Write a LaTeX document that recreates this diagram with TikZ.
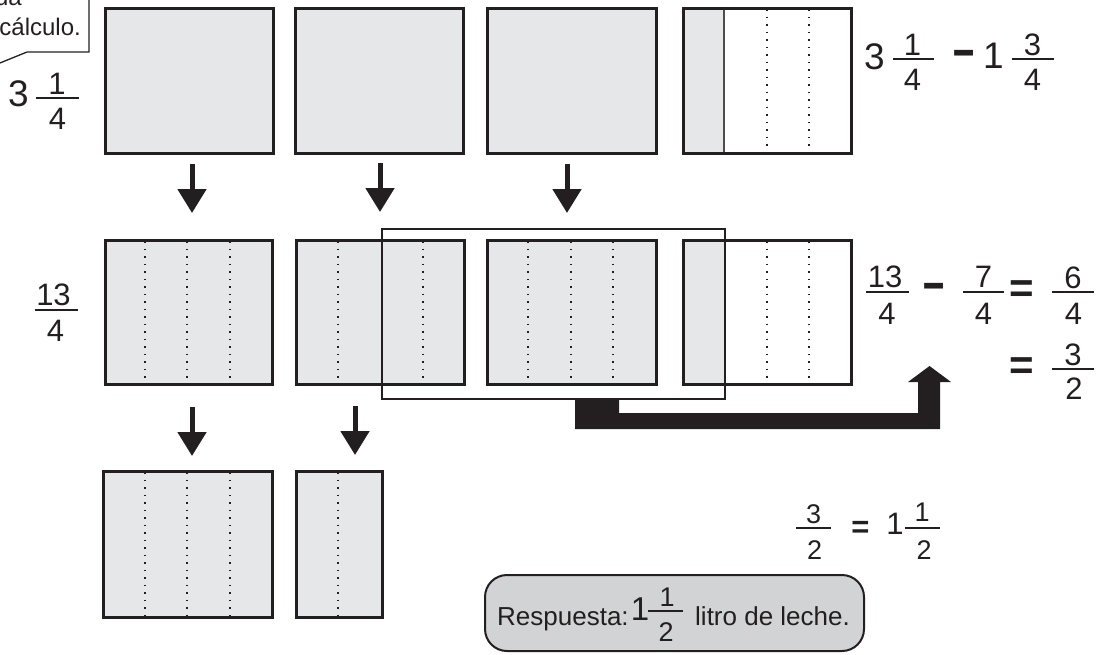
\documentclass[tikz,border=0pt]{standalone}
\usepackage{fontspec}
\setmainfont{Liberation Sans}
\usetikzlibrary{arrows.meta}
\definecolor{ink}{HTML}{231F20}
\definecolor{boxgray}{HTML}{E6E7E8}
\definecolor{ansgray}{HTML}{D1D3D4}
\tikzset{
  box/.style={draw=ink, line width=3pt, fill=boxgray, rectangle, inner sep=0, anchor=north west},
  frame/.style={draw=ink, line width=3pt, rectangle, inner sep=0, anchor=north west},
  bigframe/.style={draw=ink, line width=2pt, rectangle, inner sep=0, anchor=north west},
  dotline/.style={ink, line width=1.9pt, dash pattern=on 1.9pt off 5.6pt},
  arr/.style={ink, line width=5pt, -{Triangle[width=28pt,length=24pt]}},
  fbar/.style={ink, line width=2.2pt},
  whole/.style={inner sep=0, text=ink, font=\fontsize{37}{37}\selectfont},
  fd/.style={inner sep=0, text=ink, font=\fontsize{31}{31}\selectfont},
  fds/.style={inner sep=0, text=ink, font=\fontsize{27}{27}\selectfont},
  op/.style={inner sep=0, text=ink, font=\fontsize{42}{42}\selectfont\bfseries},
  mop/.style={inner sep=0, text=ink, font=\fontsize{38}{38}\selectfont\bfseries},
  txt/.style={inner sep=0, text=ink, font=\fontsize{26}{26}\selectfont},
  ctxt/.style={inner sep=0, text=ink, font=\fontsize{24}{24}\selectfont},
  ansbox/.style={draw=ink, line width=2pt, fill=ansgray, rounded corners=22pt, rectangle, inner sep=0, anchor=north west}
}
\newcommand\thickminus{\scalebox{1}[1.5]{–}}
\begin{document}
\begin{tikzpicture}[x=1pt,y=-1pt]
\useasboundingbox (0,0) rectangle (1105,654);
% callout
\draw[ink, line width=1.3pt, fill=white] (-5,-5) -- (89,-5) -- (89,52) -- (27,52) -- (-5,65) -- cycle;
\node[ctxt, anchor=base east] (c1) at (22,5) {ua};
\node[ctxt, anchor=base east] (c2) at (81,35) {cálculo.};
% top row
\node[box, minimum width=168, minimum height=145] (t1) at (103.5,6.5) {};
\node[box, minimum width=168, minimum height=145] (t2) at (293.5,6.5) {};
\node[box, minimum width=169, minimum height=145] (t3) at (485.5,6.5) {};
\fill[boxgray] (681.5,6.5) rectangle (724,151.5);
\draw[ink!80, line width=1.2pt] (724,6.5) -- (724,151.5);
\draw[dotline] (767,9) -- (767,151);
\draw[dotline] (809,9) -- (809,151);
\node[frame, minimum width=168, minimum height=145] (t4) at (681.5,6.5) {};
% middle row
\node[box, minimum width=167, minimum height=144] (m1) at (103.5,238.5) {};
\node[box, minimum width=168, minimum height=144] (m2) at (294.5,238.5) {};
\node[box, minimum width=169, minimum height=144] (m3) at (485.5,238.5) {};
\fill[boxgray] (681.5,238.5) rectangle (725,382.5);
\node[frame, minimum width=168, minimum height=144] (m4) at (681.5,238.5) {};
\foreach \xx in {145,187,230,338,423,528,571,613,767,809}{
  \draw[dotline] (\xx,241) -- (\xx,382);
}
\node[bigframe, minimum width=343, minimum height=169.5] (big) at (381,228) {};
% bottom row
\node[box, minimum width=169, minimum height=146] (b1) at (101.5,469.5) {};
\node[box, minimum width=86, minimum height=146] (b2) at (294.5,469.5) {};
\foreach \xx in {145,187,230}{
  \draw[dotline] (\xx,472) -- (\xx,615);
}
\draw[dotline] (338,472) -- (338,615);
% arrows
\coordinate (a1s) at (192,164); \coordinate (a1e) at (192,213);
\coordinate (a2s) at (380,163); \coordinate (a2e) at (380,212);
\coordinate (a3s) at (567,164); \coordinate (a3e) at (567,213);
\coordinate (a4s) at (192,407); \coordinate (a4e) at (192,456);
\coordinate (a5s) at (355,406); \coordinate (a5e) at (355,455);
\draw[arr] (a1s) -- (a1e);
\draw[arr] (a2s) -- (a2e);
\draw[arr] (a3s) -- (a3e);
\draw[arr] (a4s) -- (a4e);
\draw[arr] (a5s) -- (a5e);
% thick connector
\fill[ink] (575,398) -- (619,398) -- (619,413) -- (918,413) -- (918,382) -- (908,382) -- (929.5,366) -- (951,382) -- (940,382) -- (940,429) -- (575,429) -- cycle;
% left fractions
\node[whole] (w1) at (18.5,93.5) {3};
\draw[fbar] (36,98) -- (79,98);
\node[fd] (n1) at (57,84) {1};
\node[fd] (d1) at (57.5,119) {4};
\node[fd] (n2) at (53.5,295) {13};
\draw[fbar] (35,310) -- (78,310);
\node[fd] (d2) at (55.5,331) {4};
% top right
\node[whole] (w2) at (874.5,56.5) {3};
\draw[fbar] (893,59) -- (934,59);
\node[fd] (n3) at (912.5,45) {1};
\node[fd] (d3) at (912.5,80) {4};
\node[mop] (mi1) at (964.5,59.5) {\thickminus};
\node[whole] (w3) at (993.5,56) {1};
\draw[fbar] (1012,59) -- (1054,59);
\node[fd] (n4) at (1032.5,45) {3};
\node[fd] (d4) at (1032.5,80) {4};
% middle right
\node[fd] (n5) at (885,277) {13};
\draw[fbar] (866,292) -- (909,292);
\node[fd] (d5) at (887,313.5) {4};
\node[mop] (mi2) at (934,292) {\thickminus};
\node[fd] (n6) at (983.5,277) {7};
\draw[fbar] (963,292) -- (1004,292);
\node[fd] (d6) at (983.5,313.5) {4};
\node[op] (eq1) at (1021.5,292) {=};
\node[fd] (n7) at (1073,277.5) {6};
\draw[fbar] (1052,292) -- (1094,292);
\node[fd] (d7) at (1073.5,313.5) {4};
\node[op] (eq2) at (1021.5,368.5) {=};
\node[fd] (n8) at (1073,355) {3};
\draw[fbar] (1052,369) -- (1094,369);
\node[fd] (d8) at (1074,388.5) {2};
% bottom right
\node[fds] (n9) at (813.5,514) {3};
\draw[fbar] (796,528) -- (831,528);
\node[fds] (d9) at (814.5,550) {2};
\node[op, font=\fontsize{31}{31}\selectfont\bfseries] (eq3) at (860.5,529) {=};
\node[fd] (w4) at (895,524) {1};
\draw[fbar] (905,528) -- (940,528);
\node[fds] (n10) at (922,512.5) {1};
\node[fds] (d10) at (924,550) {2};
% answer
\node[ansbox, minimum width=379, minimum height=76] (ans) at (484,574) {};
\node[txt, anchor=base west] (r1) at (497,625) {Respuesta:};
\node[whole, font=\fontsize{33}{33}\selectfont] (w5) at (640,609) {1};
\draw[fbar] (648,611) -- (683,611);
\node[fds] (n11) at (667,597.5) {1};
\node[fds] (d11) at (666,632.5) {2};
\node[txt, anchor=base west] (r2) at (695,625) {litro de leche.};
\end{tikzpicture}
\end{document}
